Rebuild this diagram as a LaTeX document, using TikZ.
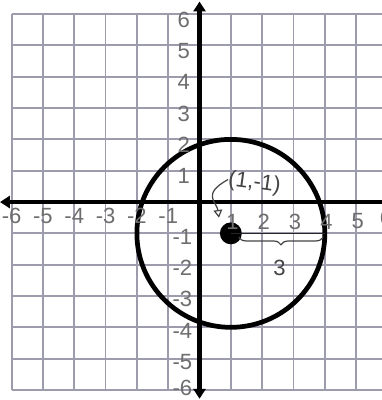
\documentclass[tikz,border=0pt]{standalone}
\usepackage{fontspec}
\setmainfont{Liberation Sans}
\usetikzlibrary{arrows.meta,decorations.pathreplacing}
\definecolor{gridc}{HTML}{9C9CAC}
\definecolor{pencil}{HTML}{6E6E6E}
\definecolor{ink}{HTML}{444444}
\tikzset{
  gridline/.style={draw=gridc,line width=1.7pt},
  axisline/.style={draw=black,line width=4.3pt},
  circ/.style={draw=black,line width=4.3pt},
  numlab/.style={text=pencil,font=\fontsize{20}{20}\selectfont,inner sep=0pt},
  inklab/.style={text=ink,font=\fontsize{20}{20}\selectfont,inner sep=0pt}
}
\begin{document}
\begin{tikzpicture}[x=1cm,y=1cm]
\useasboundingbox (-6.37,-6.32) rectangle (5.825,6.45);
\fill[white] (-6.37,-6.32) rectangle (5.825,6.45);
\clip (-6.37,-6.32) rectangle (5.825,6.45);
\draw[gridline] (-6,-6) grid (6,6);
% axes
\coordinate (ytop) at (0,6.4);
\coordinate (ybot) at (0,-6.28);
\coordinate (xleft) at (-6.37,0);
\coordinate (xright) at (6.3,0);
\draw[axisline,{Triangle[length=9pt,width=11pt]}-{Triangle[length=9pt,width=11pt]}] (ybot) -- (ytop);
\draw[axisline,{Triangle[length=9pt,width=11pt]}-{Triangle[length=9pt,width=11pt]}] (xleft) -- (xright);
% circle
\coordinate (c) at (1,-1);
\draw[circ] (c) circle (3);
\fill[black] (c) circle (0.35);
\coordinate (redge) at (4,-1);
\draw[line width=1.3pt,black!85] (c) -- (redge);
\coordinate (b1) at (1.25,-1.12);
\coordinate (b2) at (3.95,-1.12);
\draw[ink,line width=1.1pt,decorate,decoration={brace,mirror,amplitude=7pt}] (b1) -- (b2);
\node[inklab] (three) at (2.55,-2.1) {3};
% label with arrow
\node[inklab,rotate=-8] (pt) at (1.75,0.6) {(1,-1)};
\coordinate (tip) at (0.62,-0.5);
\draw[ink,line width=1.1pt,-{Triangle[open,length=7pt,width=8pt]}] (pt.west) .. controls (0.05,0.25) and (0.55,0.0) .. (tip);
% y labels
\foreach \i in {1,...,6} \node[numlab] (yl\i) at (-0.5,\i-0.18) {\i};
\foreach \i in {1,...,5} \node[numlab] (yn\i) at (-0.55,-\i-0.1) {-\i};
\node[numlab] (yn6) at (-0.55,-5.95) {-6};
% x labels
\foreach \i in {1,...,6} \node[numlab] (xn\i) at (-\i,-0.45) {-\i};
\foreach \i in {1,...,5} \node[numlab] (xl\i) at (\i+0.05,-0.62) {\i};
\node[numlab] (xl6) at (5.95,-0.5) {6};
\end{tikzpicture}
\end{document}
